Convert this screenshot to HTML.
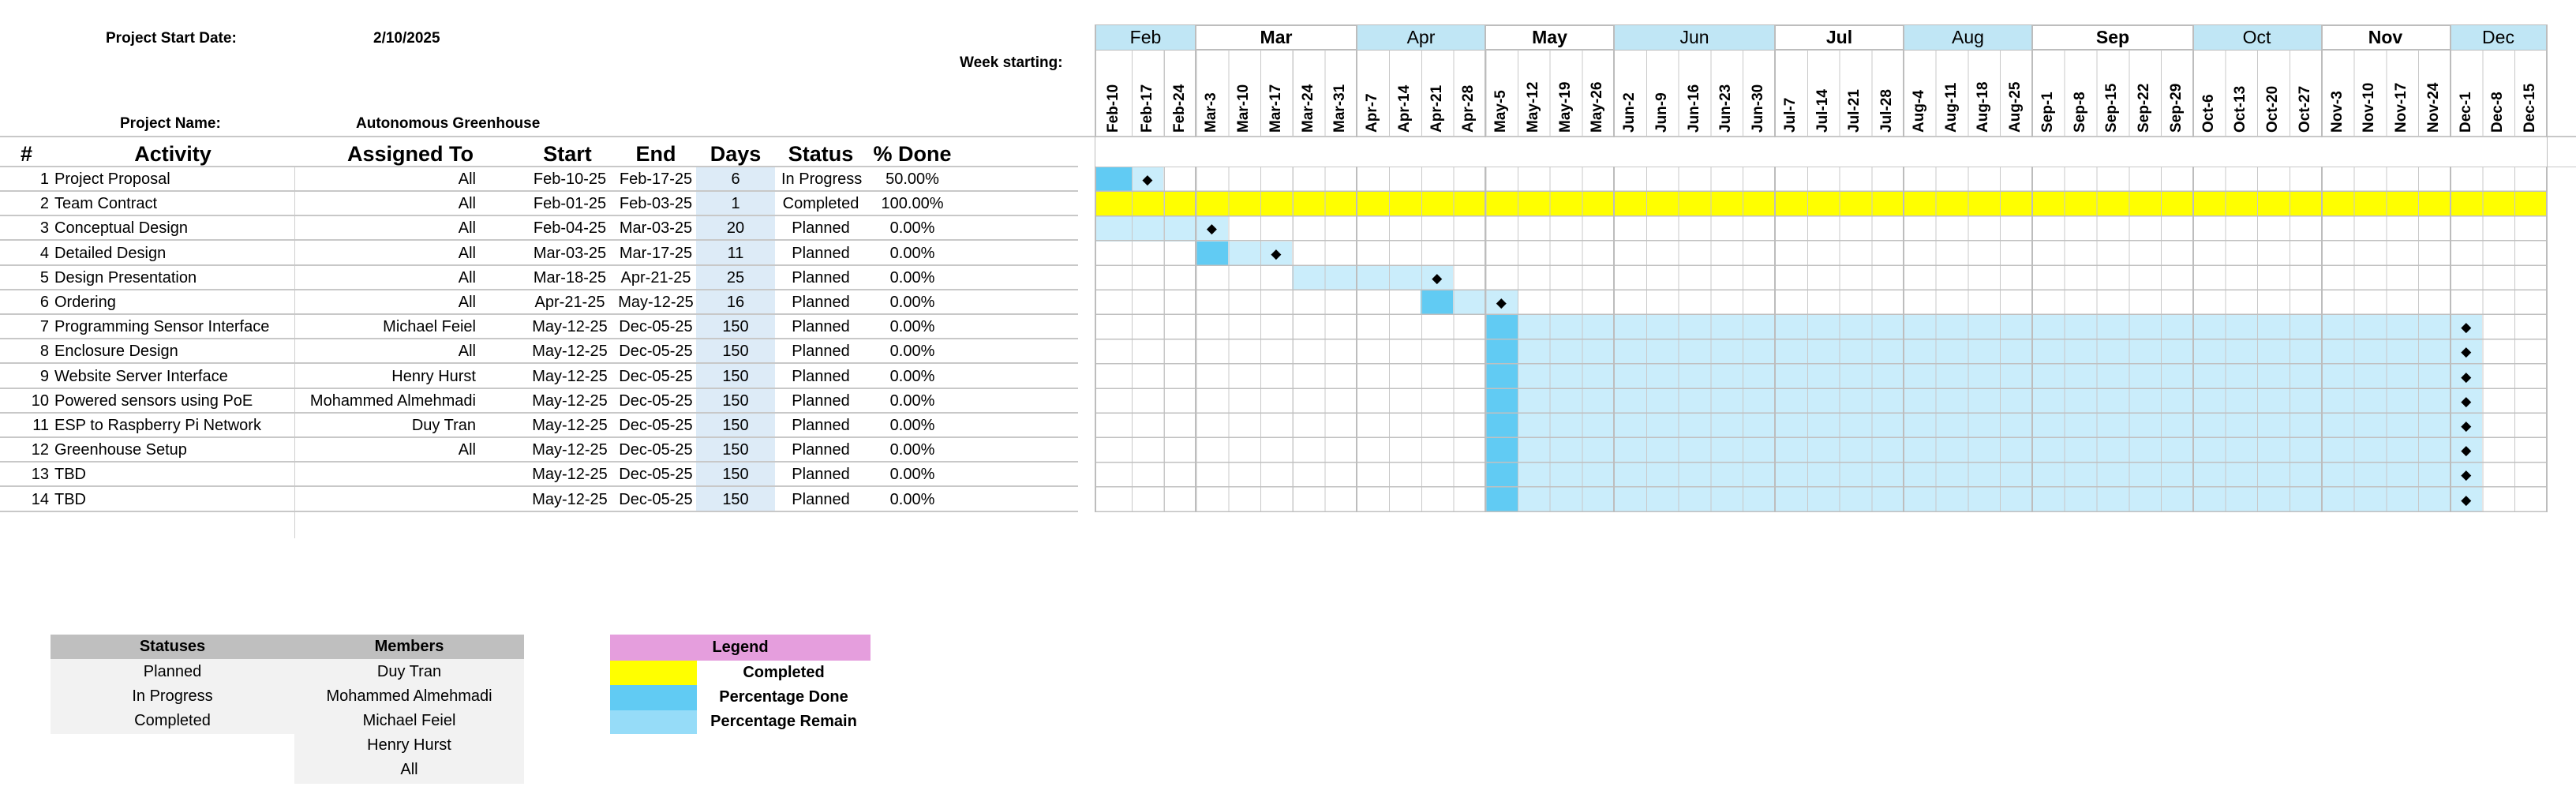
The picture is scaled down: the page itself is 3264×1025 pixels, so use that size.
<!DOCTYPE html>
<html><head><meta charset="utf-8"><style>
*{margin:0;padding:0;box-sizing:border-box}
body{width:3264px;height:1025px;background:#fff;position:relative;overflow:hidden;font-family:"Liberation Sans",Arial,sans-serif;color:#000}
.ab{position:absolute}
.t{position:absolute;white-space:nowrap}
.hd{font-weight:bold;font-size:19px}
.row{position:absolute;left:0;width:1366px;height:31px;line-height:31px;font-size:20px;border-bottom:2px solid #C8C8C8}
.row span{position:absolute;white-space:nowrap;top:0}
.n{left:0;width:62px;text-align:right}
.a{left:69px}
.as{left:373px;width:230px;text-align:right}
.s{left:672px;width:100px;text-align:center}
.e{left:781px;width:100px;text-align:center}
.dy{left:882px;width:100px;text-align:center}
.st{left:990px;width:100px;text-align:center}
.p{left:1098px;width:116px;text-align:center}
.hr span{font-weight:bold;font-size:27px}
.mo{position:absolute;top:32px;height:31px;line-height:31px;text-align:center;font-size:23px}
.mb{background:#C0E6F5}
.mw{font-weight:bold}
.d{position:absolute;top:168px;transform-origin:0 0;transform:rotate(-90deg);font-weight:bold;font-size:19px;line-height:20px;white-space:nowrap}
.bar{position:absolute;height:31.2px}
.dk{background:#61CBF3}
.lt{background:#CAEDFB}
.yl{background:#FFFF00}
.dm{position:absolute;width:40.75px;height:31.2px;line-height:31px;text-align:center;font-size:17px}
.vl{position:absolute;top:63px;height:586px;width:2px;background:#BDBDBD}
.bt{position:absolute;height:31px;line-height:31px;text-align:center;font-size:20px}
</style></head><body>

<div class="t hd" style="left:134px;top:38px">Project Start Date:</div>
<div class="t hd" style="left:473px;top:38px">2/10/2025</div>
<div class="t hd" style="left:1216px;top:69px">Week starting:</div>
<div class="t hd" style="left:152px;top:146px">Project Name:</div>
<div class="t hd" style="left:451px;top:146px">Autonomous Greenhouse</div>

<div class="ab" style="left:0;top:172px;width:1388px;height:2px;background:#C8C8C8"></div>
<div class="ab" style="left:1388px;top:172px;width:1876px;height:2px;background:#C8C8C8"></div>
<div class="ab" style="left:1388px;top:211px;width:1876px;height:1px;background:#C8C8C8"></div>

<div class="ab" style="left:882px;top:212px;width:100px;height:437px;background:#DDEBF7"></div>
<div class="ab" style="left:373px;top:212px;width:1px;height:470px;background:#D0D0D0"></div>

<div class="row hr" style="top:178px;height:34px;line-height:34px">
<span style="left:26px">#</span><span style="left:119px;width:200px;text-align:center">Activity</span>
<span style="left:420px;width:200px;text-align:center">Assigned To</span>
<span class="s" style="left:669px">Start</span><span class="e">End</span><span class="dy">Days</span><span class="st">Status</span><span class="p">% Done</span>
</div>

<div class="row" style="top:212px"><span class="n">1</span><span class="a">Project Proposal</span><span class="as">All</span><span class="s">Feb-10-25</span><span class="e">Feb-17-25</span><span class="dy">6</span><span class="st">In Progress</span><span class="p">50.00%</span></div>
<div class="row" style="top:243.2px"><span class="n">2</span><span class="a">Team Contract</span><span class="as">All</span><span class="s">Feb-01-25</span><span class="e">Feb-03-25</span><span class="dy">1</span><span class="st">Completed</span><span class="p">100.00%</span></div>
<div class="row" style="top:274.4px"><span class="n">3</span><span class="a">Conceptual Design</span><span class="as">All</span><span class="s">Feb-04-25</span><span class="e">Mar-03-25</span><span class="dy">20</span><span class="st">Planned</span><span class="p">0.00%</span></div>
<div class="row" style="top:305.6px"><span class="n">4</span><span class="a">Detailed Design</span><span class="as">All</span><span class="s">Mar-03-25</span><span class="e">Mar-17-25</span><span class="dy">11</span><span class="st">Planned</span><span class="p">0.00%</span></div>
<div class="row" style="top:336.8px"><span class="n">5</span><span class="a">Design Presentation</span><span class="as">All</span><span class="s">Mar-18-25</span><span class="e">Apr-21-25</span><span class="dy">25</span><span class="st">Planned</span><span class="p">0.00%</span></div>
<div class="row" style="top:368px"><span class="n">6</span><span class="a">Ordering</span><span class="as">All</span><span class="s">Apr-21-25</span><span class="e">May-12-25</span><span class="dy">16</span><span class="st">Planned</span><span class="p">0.00%</span></div>
<div class="row" style="top:399.2px"><span class="n">7</span><span class="a">Programming Sensor Interface</span><span class="as">Michael Feiel</span><span class="s">May-12-25</span><span class="e">Dec-05-25</span><span class="dy">150</span><span class="st">Planned</span><span class="p">0.00%</span></div>
<div class="row" style="top:430.4px"><span class="n">8</span><span class="a">Enclosure Design</span><span class="as">All</span><span class="s">May-12-25</span><span class="e">Dec-05-25</span><span class="dy">150</span><span class="st">Planned</span><span class="p">0.00%</span></div>
<div class="row" style="top:461.6px"><span class="n">9</span><span class="a">Website Server Interface</span><span class="as">Henry Hurst</span><span class="s">May-12-25</span><span class="e">Dec-05-25</span><span class="dy">150</span><span class="st">Planned</span><span class="p">0.00%</span></div>
<div class="row" style="top:492.8px"><span class="n">10</span><span class="a">Powered sensors using PoE</span><span class="as">Mohammed Almehmadi</span><span class="s">May-12-25</span><span class="e">Dec-05-25</span><span class="dy">150</span><span class="st">Planned</span><span class="p">0.00%</span></div>
<div class="row" style="top:524px"><span class="n">11</span><span class="a">ESP to Raspberry Pi Network</span><span class="as">Duy Tran</span><span class="s">May-12-25</span><span class="e">Dec-05-25</span><span class="dy">150</span><span class="st">Planned</span><span class="p">0.00%</span></div>
<div class="row" style="top:555.2px"><span class="n">12</span><span class="a">Greenhouse Setup</span><span class="as">All</span><span class="s">May-12-25</span><span class="e">Dec-05-25</span><span class="dy">150</span><span class="st">Planned</span><span class="p">0.00%</span></div>
<div class="row" style="top:586.4px"><span class="n">13</span><span class="a">TBD</span><span class="as"></span><span class="s">May-12-25</span><span class="e">Dec-05-25</span><span class="dy">150</span><span class="st">Planned</span><span class="p">0.00%</span></div>
<div class="row" style="top:617.6px"><span class="n">14</span><span class="a">TBD</span><span class="as"></span><span class="s">May-12-25</span><span class="e">Dec-05-25</span><span class="dy">150</span><span class="st">Planned</span><span class="p">0.00%</span></div>

<div class="ab" style="left:1388px;top:31px;width:1839px;height:2px;background:#BDBDBD"></div>
<div class="ab" style="left:1388px;top:62px;width:1839px;height:2px;background:#BDBDBD"></div>
<div class="mo mb" style="left:1388px;width:127px">Feb</div>
<div class="mo mw" style="left:1515px;width:204px">Mar</div>
<div class="mo mb" style="left:1719px;width:163px">Apr</div>
<div class="mo mw" style="left:1882px;width:163px">May</div>
<div class="mo mb" style="left:2045px;width:204px">Jun</div>
<div class="mo mw" style="left:2249px;width:163px">Jul</div>
<div class="mo mb" style="left:2412px;width:163px">Aug</div>
<div class="mo mw" style="left:2575px;width:204px">Sep</div>
<div class="mo mb" style="left:2778px;width:163px">Oct</div>
<div class="mo mw" style="left:2941px;width:163px">Nov</div>
<div class="mo mb" style="left:3104px;width:123px">Dec</div>

<div class="d" style="left:1401px">Feb-10</div>
<div class="d" style="left:1444px">Feb-17</div>
<div class="d" style="left:1485px">Feb-24</div>
<div class="d" style="left:1525px">Mar-3</div>
<div class="d" style="left:1566px">Mar-10</div>
<div class="d" style="left:1607px">Mar-17</div>
<div class="d" style="left:1648px">Mar-24</div>
<div class="d" style="left:1688px">Mar-31</div>
<div class="d" style="left:1729px">Apr-7</div>
<div class="d" style="left:1770px">Apr-14</div>
<div class="d" style="left:1811px">Apr-21</div>
<div class="d" style="left:1851px">Apr-28</div>
<div class="d" style="left:1892px">May-5</div>
<div class="d" style="left:1933px">May-12</div>
<div class="d" style="left:1974px">May-19</div>
<div class="d" style="left:2014px">May-26</div>
<div class="d" style="left:2055px">Jun-2</div>
<div class="d" style="left:2096px">Jun-9</div>
<div class="d" style="left:2137px">Jun-16</div>
<div class="d" style="left:2177px">Jun-23</div>
<div class="d" style="left:2218px">Jun-30</div>
<div class="d" style="left:2259px">Jul-7</div>
<div class="d" style="left:2300px">Jul-14</div>
<div class="d" style="left:2340px">Jul-21</div>
<div class="d" style="left:2381px">Jul-28</div>
<div class="d" style="left:2422px">Aug-4</div>
<div class="d" style="left:2463px">Aug-11</div>
<div class="d" style="left:2503px">Aug-18</div>
<div class="d" style="left:2544px">Aug-25</div>
<div class="d" style="left:2585px">Sep-1</div>
<div class="d" style="left:2626px">Sep-8</div>
<div class="d" style="left:2666px">Sep-15</div>
<div class="d" style="left:2707px">Sep-22</div>
<div class="d" style="left:2748px">Sep-29</div>
<div class="d" style="left:2789px">Oct-6</div>
<div class="d" style="left:2829px">Oct-13</div>
<div class="d" style="left:2870px">Oct-20</div>
<div class="d" style="left:2911px">Oct-27</div>
<div class="d" style="left:2952px">Nov-3</div>
<div class="d" style="left:2992px">Nov-10</div>
<div class="d" style="left:3033px">Nov-17</div>
<div class="d" style="left:3074px">Nov-24</div>
<div class="d" style="left:3115px">Dec-1</div>
<div class="d" style="left:3155px">Dec-8</div>
<div class="d" style="left:3196px">Dec-15</div>

<div class="bar dk" style="left:1388px;top:212px;width:45.6px"></div>
<div class="bar lt" style="left:1433.6px;top:212px;width:40.8px"></div>
<div class="bar yl" style="left:1388px;top:243.2px;width:1838.6px"></div>
<div class="bar lt" style="left:1388px;top:274.4px;width:168px"></div>
<div class="bar dk" style="left:1515.1px;top:305.6px;width:40.8px"></div>
<div class="bar lt" style="left:1555.9px;top:305.6px;width:81.5px"></div>
<div class="bar lt" style="left:1637.4px;top:336.8px;width:203.7px"></div>
<div class="bar dk" style="left:1800.4px;top:368px;width:40.7px"></div>
<div class="bar lt" style="left:1841.1px;top:368px;width:81.5px"></div>
<div class="bar lt" style="left:1881.9px;top:399.2px;width:1263.2px;height:249.6px"></div>
<div class="bar dk" style="left:1881.9px;top:399.2px;width:40.7px;height:249.6px"></div>

<div class="ab" style="left:1433.6px;top:63px;width:1793px;height:110px;background:repeating-linear-gradient(to right,#C8C8C8 0,#C8C8C8 1px,transparent 1px,transparent 40.75px)"></div>
<div class="ab" style="left:1433.6px;top:212px;width:1793px;height:437px;background:repeating-linear-gradient(to right,#C8C8C8 0,#C8C8C8 1px,transparent 1px,transparent 40.75px)"></div>
<div class="ab" style="left:1388px;top:212px;width:1839px;height:437px;background:repeating-linear-gradient(to bottom,transparent 0,transparent 29.7px,#C0C0C0 29.7px,#C0C0C0 31.2px)"></div>
<div class="vl" style="left:1387px;top:31px;height:618px"></div>
<div class="vl" style="left:1514px;top:31px;height:618px"></div>
<div class="vl" style="left:1718px;top:31px;height:618px"></div>
<div class="vl" style="left:1881px;top:31px;height:618px"></div>
<div class="vl" style="left:2044px;top:31px;height:618px"></div>
<div class="vl" style="left:2248px;top:31px;height:618px"></div>
<div class="vl" style="left:2411px;top:31px;height:618px"></div>
<div class="vl" style="left:2574px;top:31px;height:618px"></div>
<div class="vl" style="left:2778px;top:31px;height:618px"></div>
<div class="vl" style="left:2941px;top:31px;height:618px"></div>
<div class="vl" style="left:3104px;top:31px;height:618px"></div>
<div class="vl" style="left:3226px;top:31px;height:618px"></div>
<div class="ab" style="left:1388px;top:174px;width:1839px;height:37px;background:#fff"></div>

<div class="dm" style="left:1433.6px;top:212px">◆</div>
<div class="dm" style="left:1515.1px;top:274.4px">◆</div>
<div class="dm" style="left:1596.6px;top:305.6px">◆</div>
<div class="dm" style="left:1800.4px;top:336.8px">◆</div>
<div class="dm" style="left:1881.9px;top:368px">◆</div>
<div class="dm" style="left:3104.4px;top:399.2px">◆</div>
<div class="dm" style="left:3104.4px;top:430.4px">◆</div>
<div class="dm" style="left:3104.4px;top:461.6px">◆</div>
<div class="dm" style="left:3104.4px;top:492.8px">◆</div>
<div class="dm" style="left:3104.4px;top:524px">◆</div>
<div class="dm" style="left:3104.4px;top:555.2px">◆</div>
<div class="dm" style="left:3104.4px;top:586.4px">◆</div>
<div class="dm" style="left:3104.4px;top:617.6px">◆</div>

<div class="ab" style="left:64px;top:804px;width:600px;height:31px;background:#BFBFBF"></div>
<div class="ab" style="left:64px;top:835px;width:309px;height:95px;background:#F2F2F2"></div>
<div class="ab" style="left:373px;top:835px;width:291px;height:158px;background:#F2F2F2"></div>
<div class="bt" style="left:64px;top:804px;width:309px;font-weight:bold">Statuses</div>
<div class="bt" style="left:373px;top:804px;width:291px;font-weight:bold">Members</div>
<div class="bt" style="left:64px;top:836px;width:309px">Planned</div>
<div class="bt" style="left:64px;top:867px;width:309px">In Progress</div>
<div class="bt" style="left:64px;top:898px;width:309px">Completed</div>
<div class="bt" style="left:373px;top:836px;width:291px">Duy Tran</div>
<div class="bt" style="left:373px;top:867px;width:291px">Mohammed Almehmadi</div>
<div class="bt" style="left:373px;top:898px;width:291px">Michael Feiel</div>
<div class="bt" style="left:373px;top:929px;width:291px">Henry Hurst</div>
<div class="bt" style="left:373px;top:960px;width:291px">All</div>

<div class="ab" style="left:773px;top:804px;width:330px;height:33px;background:#E59EDD"></div>
<div class="ab" style="left:773px;top:837px;width:110px;height:31px;background:#FFFF00"></div>
<div class="ab" style="left:773px;top:868px;width:110px;height:32px;background:#61CBF3"></div>
<div class="ab" style="left:773px;top:900px;width:110px;height:30px;background:#96DCF8"></div>
<div class="bt" style="left:773px;top:805px;width:330px;font-weight:bold">Legend</div>
<div class="bt" style="left:883px;top:837px;width:220px;font-weight:bold">Completed</div>
<div class="bt" style="left:883px;top:868px;width:220px;font-weight:bold">Percentage Done</div>
<div class="bt" style="left:883px;top:899px;width:220px;font-weight:bold">Percentage Remain</div>
</body></html>
